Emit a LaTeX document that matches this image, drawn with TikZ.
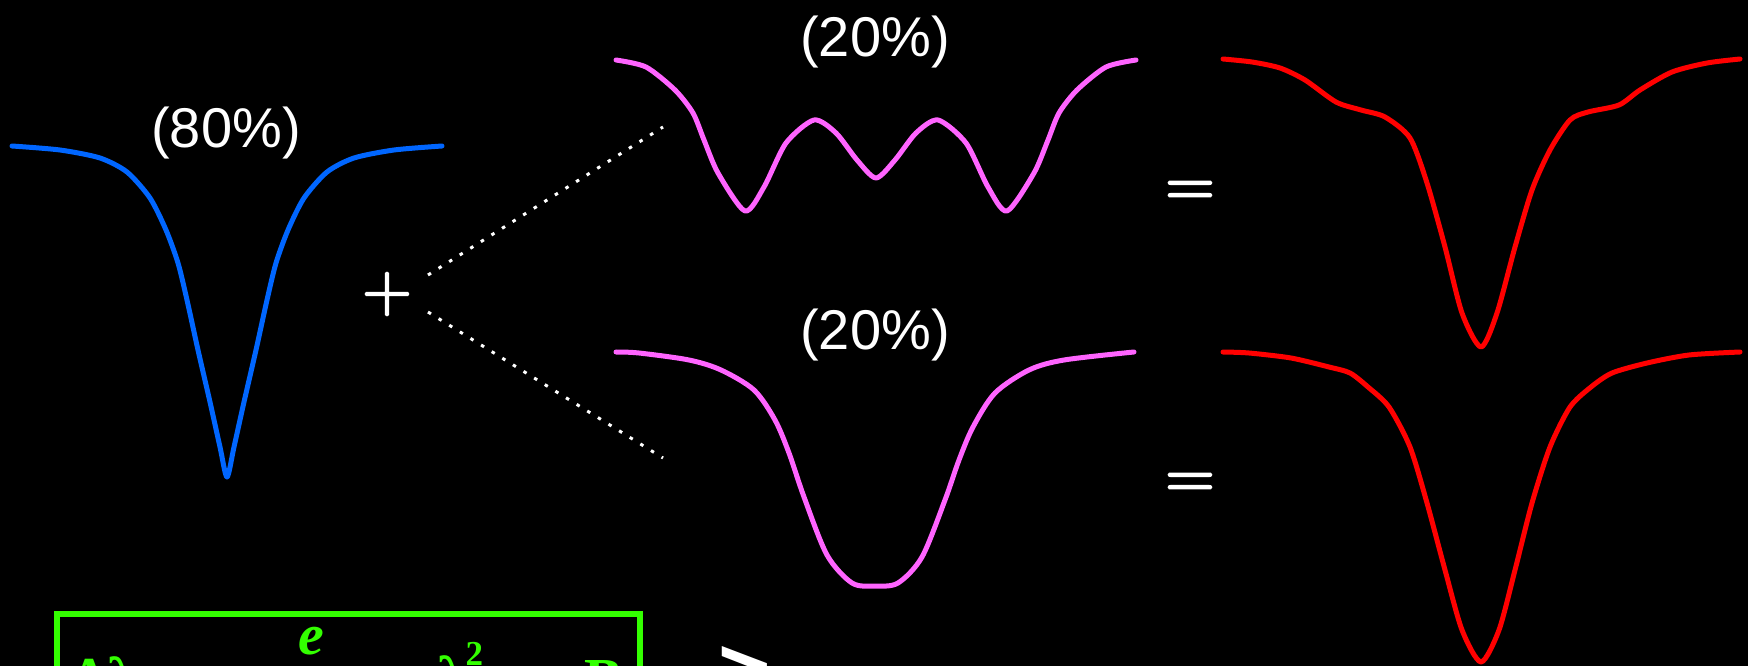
\documentclass[tikz,border=0pt]{standalone}
\usepackage{fontspec}
\newfontfamily\helv{Liberation Sans}
\newfontfamily\tms{Liberation Serif}
\newfontfamily\opfont[FakeBold=3]{lmroman10-regular.otf}
\definecolor{bluecurve}{RGB}{0,102,255}
\definecolor{pinkcurve}{RGB}{255,100,255}
\definecolor{redcurve}{RGB}{255,0,0}
\definecolor{greenbox}{RGB}{51,255,0}
\begin{document}
\begin{tikzpicture}[x=1pt,y=-1pt,
  curve/.style={line width=5pt, line join=round, line cap=round},
  pct/.style={text=white, font=\helv\fontsize{56}{60}\selectfont, inner sep=0pt, anchor=base},
  op/.style={text=white, font=\opfont\fontsize{64}{64}\selectfont, inner sep=0pt, anchor=base},
  dotline/.style={white, line width=3pt, dash pattern=on 3.5pt off 9pt},
  eqn/.style={text=greenbox, font=\tms\bfseries\fontsize{58}{60}\selectfont, inner sep=0pt, anchor=base west}]
\fill[black] (0,0) rectangle (1748,666);
\useasboundingbox (0,0) rectangle (1748,666);
\clip (0,0) rectangle (1748,666);

% blue profile (80%)
\draw[curve, bluecurve] plot[smooth, tension=0.45] coordinates {(12,146) (60,150) (100,158) (127,172) (150,198) (166,230) (178,263) (187,300) (198,350) (210,402) (220,447) (227,477) (234,447) (244,402) (256,350) (267,300) (276,263) (288,230) (304,198) (327,172) (354,158) (394,150) (442,146)};
\node[pct] (l80) at (226,147) {(80\%)};

% plus and dotted connectors
\node[op] (plus) at (387,310) {+};
\coordinate (p1) at (428,275);
\coordinate (q1) at (663,127);
\coordinate (p2) at (428,312);
\coordinate (q2) at (663,458);
\draw[dotline] (p1) -- (q1);
\draw[dotline] (p2) -- (q2);

% top pink profile (20%)
\draw[curve, pinkcurve] plot[smooth, tension=0.45] coordinates {(616,60) (646,67) (675,90) (693,113) (704,140) (718,173) (745,211) (764,187) (786,143) (814,120) (836,133) (857,160) (876,178) (895,160) (916,133) (938,120) (966,143) (988,187) (1007,211) (1034,173) (1048,140) (1059,113) (1077,90) (1106,67) (1136,60)};
\node[pct] (l20a) at (875,57) {(20\%)};

% bottom pink profile (20%)
\draw[curve, pinkcurve] plot[smooth, tension=0.5] coordinates {(616,352) (639,353) (689,360) (721,370) (754,390) (775,420) (789,453) (804,497) (827,555) (852,583) (875,586) (898,583) (922,557) (945,500) (959,460) (973,427) (995,393) (1029,370) (1064,360) (1134,352)};
\node[pct] (l20b) at (875,349) {(20\%)};

% equals signs
\node[op] (eq1) at (1190,205) {=};
\node[op] (eq2) at (1190,497) {=};

% red results
\draw[curve, redcurve] plot[smooth, tension=0.45] coordinates {(1223,59) (1252,62) (1280,68) (1305,80) (1336,102) (1361,110) (1385,117) (1410,138) (1427,183) (1445,247) (1462,313) (1481,347) (1497,313) (1515,247) (1532,190) (1550,150) (1570,120) (1588,112) (1619,105) (1640,90) (1672,72) (1707,63) (1740,59)};
\draw[curve, redcurve] plot[smooth, tension=0.45] coordinates {(1223,352) (1249,353) (1291,358) (1329,367) (1350,373) (1368,387) (1389,407) (1410,447) (1427,503) (1445,570) (1462,630) (1481,662) (1499,630) (1515,570) (1532,503) (1550,447) (1570,407) (1591,387) (1612,373) (1647,363) (1689,355) (1740,352)};

% green formula box (cut off by the frame)
\node[draw=greenbox, line width=6pt, minimum width=583pt, minimum height=160pt, anchor=north west, inner sep=0pt] (box) at (54,611) {};
\node[eqn] (dl) at (71,697) {Δλ};
\node[eqn, font=\tms\bfseries\itshape\fontsize{58}{60}\selectfont, anchor=base] (num) at (311,654) {e};
\node[eqn] (lam) at (437,696) {λ\raisebox{31pt}{\fontsize{35}{35}\selectfont 2}};
\node[eqn] (bf) at (584,698) {B};
\node[text=white, font=\helv\bfseries\fontsize{90}{90}\selectfont, inner sep=0pt, anchor=base west] (gt) at (718,700) {>};
\end{tikzpicture}
\end{document}
